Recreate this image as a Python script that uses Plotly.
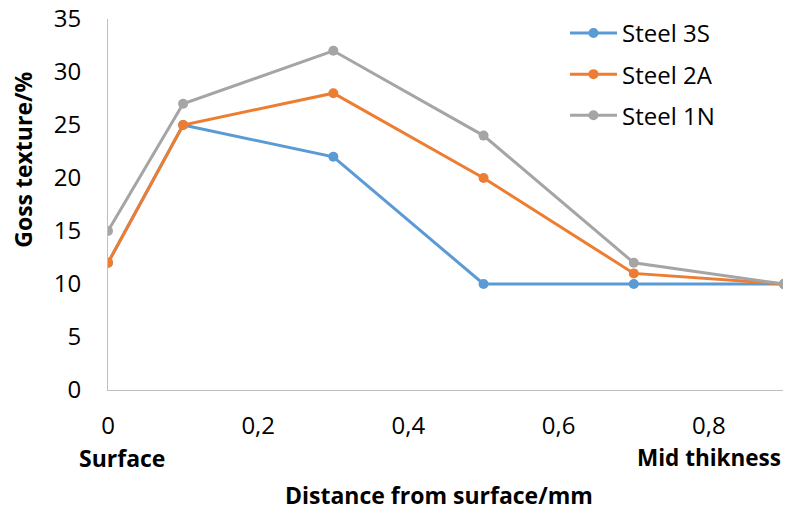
import plotly.graph_objects as go

x_vals = [0, 0.1, 0.3, 0.5, 0.7, 0.9]
steel_3s = [12, 25, 22, 10, 10, 10]
steel_2a = [12, 25, 28, 20, 11, 10]
steel_1n = [15, 27, 32, 24, 12, 10]
series_names = ["Steel 3S", "Steel 2A", "Steel 1N"]
colors = ["#5B9BD5", "#ED7D31", "#A5A5A5"]
x_tickvals = [0, 0.2, 0.4, 0.6, 0.8]
x_ticktext = ["0", "0,2", "0,4", "0,6", "0,8"]
y_tickvals = [0, 5, 10, 15, 20, 25, 30, 35]

FONT = "Open Sans, sans-serif"

fig = go.Figure()
for name, ys, c in zip(series_names, [steel_3s, steel_2a, steel_1n], colors):
    fig.add_trace(go.Scatter(x=x_vals, y=ys, name=name, mode="lines+markers",
                             legendgroup=name,
                             line=dict(color=c, width=3),
                             marker=dict(color=c, size=10)))

fig.update_layout(
    width=783, height=505,
    margin=dict(l=100, r=7, t=11, b=123, autoexpand=False),
    paper_bgcolor="white", plot_bgcolor="white",
    font=dict(family=FONT, size=24, color="#000000"),
    showlegend=True,
    legend=dict(x=0.676, y=1.022, xanchor="left", yanchor="top",
                font=dict(size=24, family=FONT), bgcolor="rgba(0,0,0,0)",
                tracegroupgap=7, itemwidth=47),
    xaxis=dict(range=[0, 0.9], tickvals=x_tickvals, ticktext=x_ticktext,
               showgrid=False, zeroline=False, showline=True,
               linecolor="#BFBFBF", linewidth=1,
               ticks="", ticklabelstandoff=14, automargin=False,
               ticklabeloverflow="allow"),
    yaxis=dict(range=[0, 35], tickvals=y_tickvals, showgrid=False,
               zeroline=False, showline=True, linecolor="#BFBFBF", linewidth=1,
               ticks="", ticklabelstandoff=21, automargin=False,
               ticklabeloverflow="allow"),
    annotations=[
        dict(text="<b>Surface</b>", x=0.02, y=-0.183, xref="paper", yref="paper",
             xanchor="center", yanchor="middle", showarrow=False,
             font=dict(size=23, family=FONT)),
        dict(text="<b>Mid thikness</b>", x=0.889, y=-0.183, xref="paper", yref="paper",
             xanchor="center", yanchor="middle", showarrow=False,
             font=dict(size=22.5, family=FONT)),
        dict(text="<b>Distance from surface/mm</b>", x=0.489, y=-0.283,
             xref="paper", yref="paper", xanchor="center", yanchor="middle",
             showarrow=False, font=dict(size=23, family=FONT)),
        dict(text="<b>Goss texture/%</b>", x=-0.127, y=0.621, xref="paper",
             yref="paper", xanchor="center", yanchor="middle", textangle=-90,
             showarrow=False, font=dict(size=23, family=FONT)),
    ],
)

fig.write_html("out.html")
